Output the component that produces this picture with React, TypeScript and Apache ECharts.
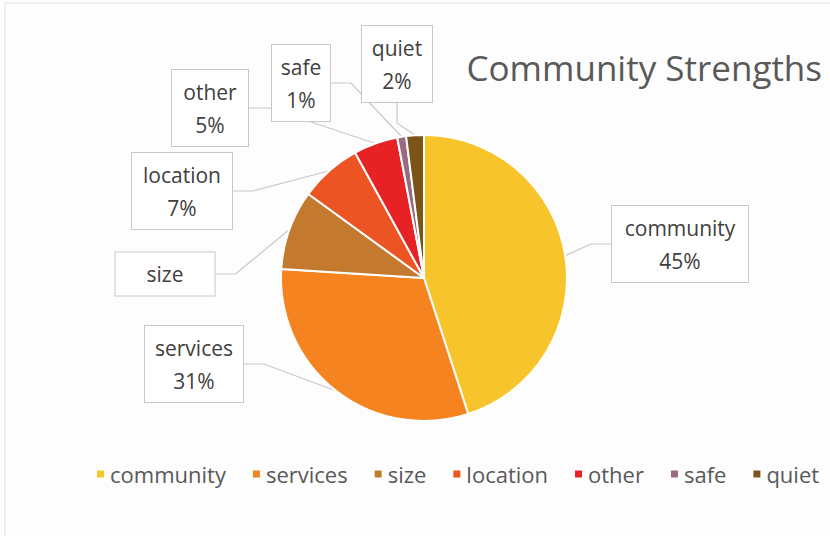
import React, { useEffect, useRef } from "react";
import * as echarts from "echarts";

const categories = ["community", "services", "size", "location", "other", "safe", "quiet"];
const values = [45, 31, 9, 7, 5, 1, 2];
const labelTexts = ["community\n45%", "services\n31%", "size", "location\n7%", "other\n5%", "safe\n1%", "quiet\n2%"];
const colors = ["#F7C52B", "#F58420", "#C47A2E", "#EC5424", "#E62225", "#9A6A80", "#7A5418"];

// callout box centres and content widths (layout only)
const boxCenters: [number, number][] = [
  [680, 244],
  [194, 364],
  [165, 274],
  [182, 191],
  [210, 108],
  [301, 83],
  [397, 64],
];
const boxWidths = [120, 82, 83, 84, 60, 42, 54];

const FONT = "'Open Sans', 'Noto Sans', sans-serif";

export default function App() {
  const ref = useRef<HTMLDivElement>(null);
  useEffect(() => {
    if (!ref.current) return;
    const chart = echarts.init(ref.current, null, { renderer: "svg" });
    chart.setOption({
      animation: false,
      backgroundColor: "#FDFDFD",
      title: {
        text: "Community Strengths",
        right: 3,
        top: 45,
        textStyle: { fontFamily: FONT, fontSize: 35, fontWeight: "normal", color: "#595959" },
      },
      graphic: [
        {
          type: "rect",
          shape: { x: 5, y: 3, width: 840, height: 560 },
          style: { fill: "none", stroke: "#EAEAEA", lineWidth: 1.5 },
          silent: true,
        },
      ],
      legend: {
        left: 90,
        top: 458,
        icon: "rect",
        itemWidth: 9,
        itemHeight: 9,
        itemGap: 25,
        textStyle: { fontFamily: FONT, fontSize: 22, color: "#595959" },
        data: categories,
      },
      series: [
        {
          type: "pie",
          center: [424, 278],
          radius: 143,
          startAngle: 90,
          clockwise: true,
          avoidLabelOverlap: false,
          itemStyle: { borderColor: "#FFFFFF", borderWidth: 2 },
          label: {
            show: true,
            formatter: (p: any) => labelTexts[p.dataIndex],
            fontFamily: FONT,
            fontSize: 21,
            lineHeight: 33,
            color: "#404040",
            backgroundColor: "#FFFFFF",
            borderColor: "#C8C8C8",
            borderWidth: 1,
            padding: [5, 8, 5, 8],
            align: "center",
            overflow: "none",
          },
          labelLine: {
            show: true,
            length: 20,
            length2: 20,
            lineStyle: { color: "#C8C8C8", width: 1.2 },
          },
          labelLayout: (p: any) => {
            const c = boxCenters[p.dataIndex];
            return {
              x: c[0],
              y: c[1],
              align: "center",
              verticalAlign: "middle",
              moveOverlap: false,
              hideOverlap: false,
            };
          },
          data: categories.map((name, i) => ({
            name,
            value: values[i],
            itemStyle: { color: colors[i] },
            label: { width: boxWidths[i] },
          })),
        },
      ],
    });
    return () => chart.dispose();
  }, []);
  return <div ref={ref} style={{ position: "absolute", left: 0, top: 0, width: 830, height: 536 }} />;
}
